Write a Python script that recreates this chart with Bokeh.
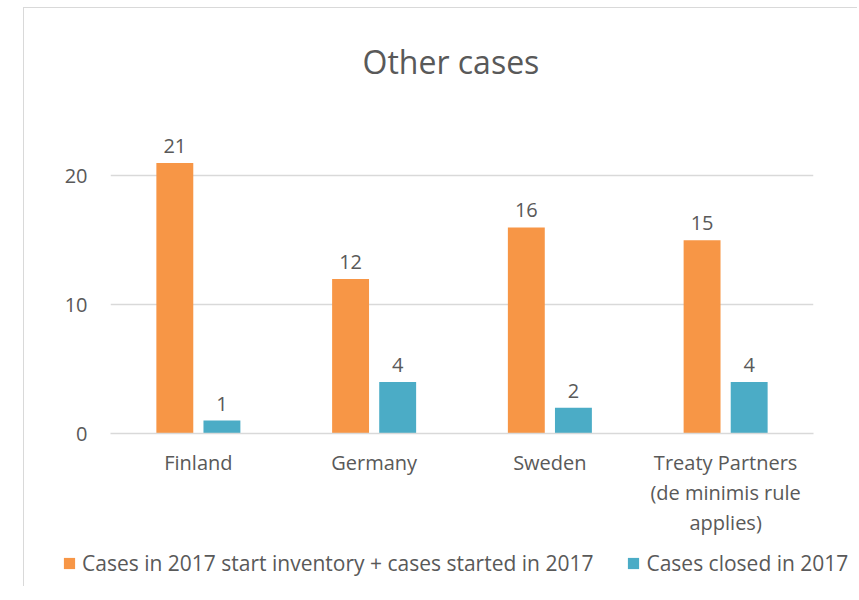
from bokeh.plotting import figure
from bokeh.layouts import column
from bokeh.models import ColumnDataSource, FactorRange, Range1d, Legend, LegendItem, SingleIntervalTicker
from bokeh.transform import dodge
from bokeh.embed import file_html
from bokeh.resources import INLINE
from bokeh.core.properties import value

categories = ["Finland", "Germany", "Sweden", "Treaty Partners\n(de minimis rule\napplies)"]
started = [21, 12, 16, 15]
closed = [1, 4, 2, 4]
series_names = ["Cases in 2017 start inventory + cases started in 2017", "Cases closed in 2017"]
colors = ["#F79646", "#4BACC6"]
title_text = "Other cases"

FONT = "Open Sans"
TXT = "#595959"
GRID = "#d9d9d9"
FS = "20px"

src = ColumnDataSource(dict(cat=categories, started=started, closed=closed,
                            started_lbl=[str(v) for v in started],
                            closed_lbl=[str(v) for v in closed]))

p = figure(x_range=FactorRange(*categories), y_range=Range1d(0, 25),
           width=833, height=532, output_backend="svg", toolbar_location=None,
           min_border_left=86, min_border_right=44, min_border_top=103, min_border_bottom=107)
p.outline_line_color = None
p.background_fill_color = "white"
p.border_fill_color = "white"

p.title.text = title_text
p.title.align = "left"
p.title.offset = 252
p.title.text_font = FONT
p.title.text_font_size = "32px"
p.title.text_font_style = "normal"
p.title.text_color = TXT
p.title.standoff = 57

off = 0.134
bw = 0.21
r1 = p.vbar(x=dodge("cat", -off, range=p.x_range), top="started", width=bw, source=src,
            fill_color=colors[0], line_color=None)
r2 = p.vbar(x=dodge("cat", off, range=p.x_range), top="closed", width=bw, source=src,
            fill_color=colors[1], line_color=None)

for fld, lbl, o in (("started", "started_lbl", -off), ("closed", "closed_lbl", off)):
    p.text(x=dodge("cat", o, range=p.x_range), y=fld, text=lbl, source=src,
           text_align="center", text_baseline="alphabetic", y_offset=-17,
           text_font=value(FONT), text_font_size=FS, text_color=TXT)

p.yaxis.ticker = SingleIntervalTicker(interval=10)
p.yaxis.axis_line_color = None
p.yaxis.major_tick_line_color = None
p.yaxis.minor_tick_line_color = None
p.yaxis.major_label_standoff = 17
p.yaxis.major_label_text_font = FONT
p.yaxis.major_label_text_font_size = FS
p.yaxis.major_label_text_color = TXT

p.xaxis.axis_line_color = GRID
p.xaxis.axis_line_width = 1.5
p.xaxis.major_tick_line_color = None
p.xaxis.minor_tick_line_color = None
p.xaxis.major_label_standoff = 9
p.xaxis.major_label_text_font = FONT
p.xaxis.major_label_text_font_size = FS
p.xaxis.major_label_text_color = TXT
p.xaxis.major_label_text_line_height = 1.12

p.xgrid.grid_line_color = None
p.ygrid.grid_line_color = GRID
p.ygrid.grid_line_width = 1.5
p.ygrid.ticker = SingleIntervalTicker(interval=10)

# legend strip: same series drawn outside its visible range, only the legend shows
p2 = figure(x_range=FactorRange(*categories), y_range=Range1d(100, 101),
            width=833, height=46, output_backend="svg", toolbar_location=None,
            min_border=0)
p2.outline_line_color = None
p2.axis.visible = False
p2.grid.grid_line_color = None
for fig in (p, p2):
    try:
        fig.frame_align = False
    except Exception:
        pass
l1 = p2.vbar(x=dodge("cat", -off, range=p2.x_range), top="started", width=bw, source=src,
             fill_color=colors[0], line_color=None)
l2 = p2.vbar(x=dodge("cat", off, range=p2.x_range), top="closed", width=bw, source=src,
             fill_color=colors[1], line_color=None)
legend = Legend(items=[LegendItem(label=series_names[0], renderers=[l1]),
                       LegendItem(label=series_names[1], renderers=[l2])],
                orientation="horizontal", location=(38, 9),
                border_line_color=None, background_fill_alpha=0,
                glyph_width=14, glyph_height=14, label_standoff=6, spacing=33,
                label_text_font=FONT, label_text_font_size="21px", label_text_color=TXT,
                padding=0, margin=0)
p2.add_layout(legend, "center")

lay = column(p, p2, spacing=0)
lay.margin = (7, 0, 0, 23)
lay.styles = {"border-left": f"1px solid {GRID}", "border-top": f"1px solid {GRID}"}

open("out.html", "w").write(file_html(lay, INLINE))
